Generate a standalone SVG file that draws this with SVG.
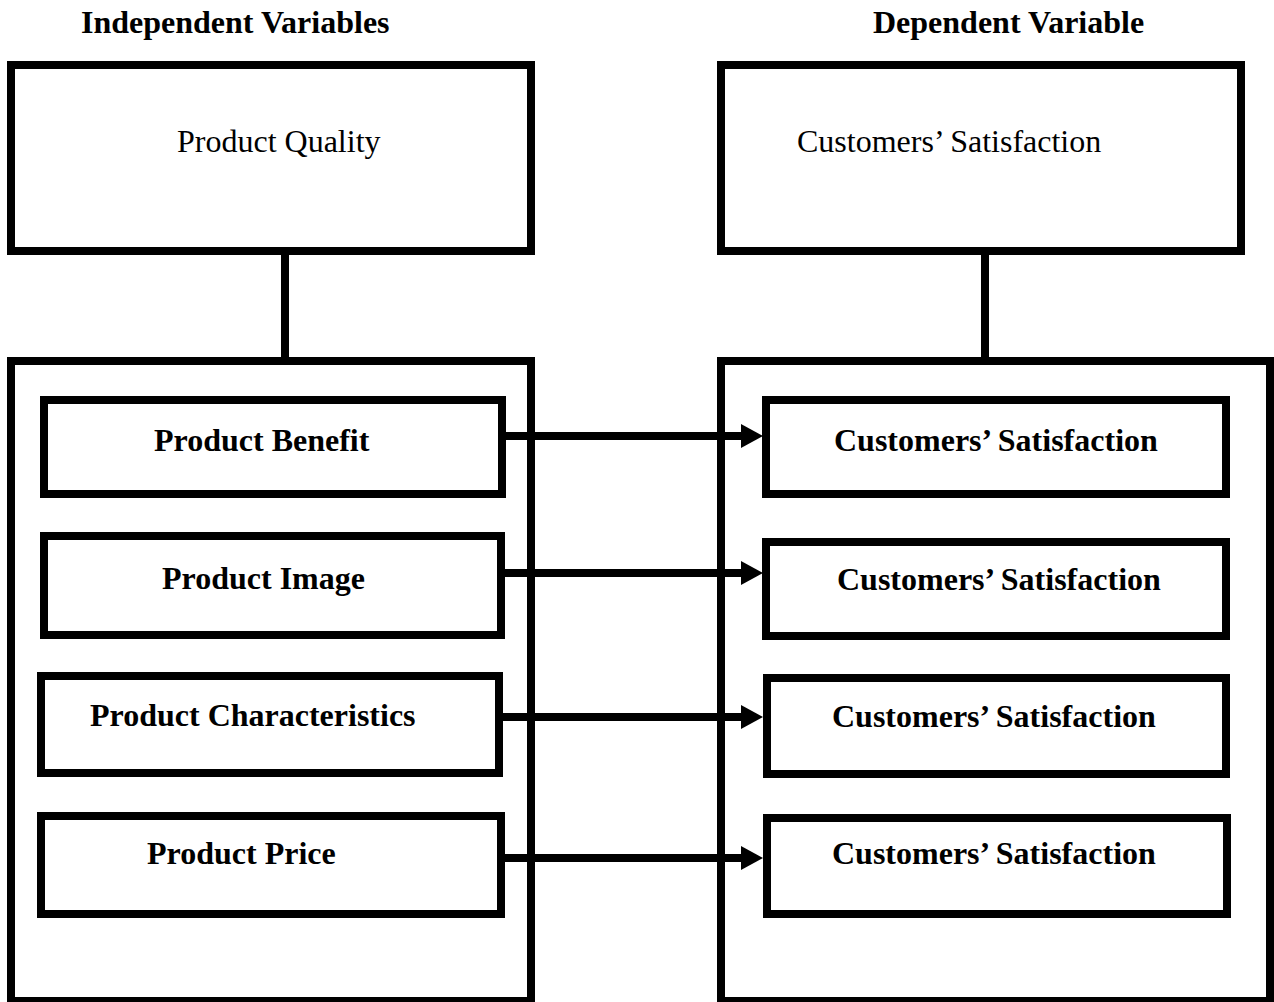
<svg xmlns="http://www.w3.org/2000/svg" width="1274" height="1002" viewBox="0 0 1274 1002">
  <style>
    .box { fill: #ffffff; stroke: #000000; stroke-width: 8; }
    .inner { fill: #ffffff; stroke: #000000; stroke-width: 8; }
    .conn { stroke: #000000; stroke-width: 8; fill: none; }
    .hdr { font-family: "Liberation Serif", "Times New Roman", serif; font-size: 32px; font-weight: bold; fill: #000; }
    .reg { font-family: "Liberation Serif", "Times New Roman", serif; font-size: 32px; fill: #000; }
    .bold { font-family: "Liberation Serif", "Times New Roman", serif; font-size: 32px; font-weight: bold; fill: #000; }
  </style>
  <defs>
    <marker id="arrow" markerUnits="userSpaceOnUse" markerWidth="22" markerHeight="24" refX="0" refY="12" orient="auto">
      <path d="M0,0 L22,12 L0,24 Z" fill="#000"/>
    </marker>
  </defs>
  <rect width="1274" height="1002" fill="#ffffff"/>

  <g id="headers">
    <text class="hdr" x="81" y="33">Independent Variables</text>
    <text class="hdr" x="873" y="33">Dependent Variable</text>
  </g>

  <g id="node-product-quality">
    <rect class="box" x="11" y="65" width="520" height="186"/>
    <text class="reg" x="177" y="152">Product Quality</text>
  </g>
  <g id="node-customers-satisfaction-top">
    <rect class="box" x="721" y="65" width="520" height="186"/>
    <text class="reg" x="797" y="152">Customers’ Satisfaction</text>
  </g>

  <g id="node-independent-group">
    <rect class="box" x="11" y="361" width="520" height="640"/>
  </g>
  <g id="node-dependent-group">
    <rect class="box" x="721" y="361" width="549" height="640"/>
  </g>

  <g id="node-product-benefit">
    <rect class="inner" x="44" y="400" width="458" height="94"/>
    <text class="bold" x="154" y="451">Product Benefit</text>
  </g>
  <g id="node-product-image">
    <rect class="inner" x="44" y="536" width="457" height="99"/>
    <text class="bold" x="162" y="589">Product Image</text>
  </g>
  <g id="node-product-characteristics">
    <rect class="inner" x="41" y="676" width="458" height="97"/>
    <text class="bold" x="90" y="726">Product Characteristics</text>
  </g>
  <g id="node-product-price">
    <rect class="inner" x="41" y="816" width="460" height="98"/>
    <text class="bold" x="147" y="864">Product Price</text>
  </g>

  <g id="node-cs-1">
    <rect class="inner" x="766" y="400" width="460" height="94"/>
    <text class="bold" x="834" y="451">Customers’ Satisfaction</text>
  </g>
  <g id="node-cs-2">
    <rect class="inner" x="766" y="542" width="460" height="94"/>
    <text class="bold" x="837" y="590">Customers’ Satisfaction</text>
  </g>
  <g id="node-cs-3">
    <rect class="inner" x="767" y="678" width="459" height="96"/>
    <text class="bold" x="832" y="727">Customers’ Satisfaction</text>
  </g>
  <g id="node-cs-4">
    <rect class="inner" x="767" y="818" width="460" height="96"/>
    <text class="bold" x="832" y="864">Customers’ Satisfaction</text>
  </g>

  <g id="connectors">
    <line class="conn" x1="285" y1="254" x2="285" y2="358"/>
    <line class="conn" x1="985" y1="254" x2="985" y2="358"/>
    <line class="conn" x1="505" y1="436" x2="741" y2="436" marker-end="url(#arrow)"/>
    <line class="conn" x1="504" y1="573" x2="741" y2="573" marker-end="url(#arrow)"/>
    <line class="conn" x1="502" y1="717" x2="741" y2="717" marker-end="url(#arrow)"/>
    <line class="conn" x1="504" y1="858" x2="741" y2="858" marker-end="url(#arrow)"/>
  </g>
</svg>
